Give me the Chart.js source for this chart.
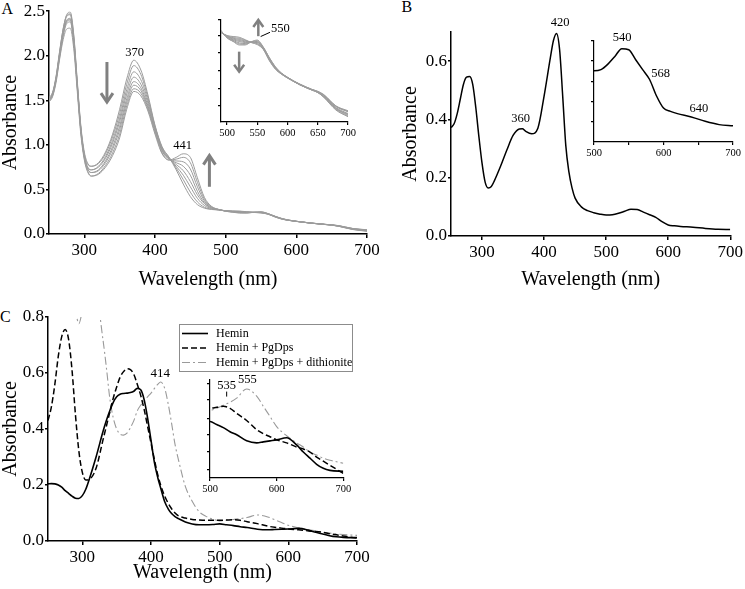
<!DOCTYPE html>
<html>
<head>
<meta charset="utf-8">
<script src="https://cdn.jsdelivr.net/npm/chart.js@4.4.1/dist/chart.umd.min.js"></script>
<style>
  body { margin: 0; background: #fff; width: 745px; height: 589px; position: relative; overflow: hidden; font-family: "Liberation Serif", serif; }
  canvas { position: absolute; }
  .tag { position: absolute; font-size: 16px; line-height: 1; }
</style>
</head>
<body>
<div class="tag" style="left:1.5px;top:0.5px">A</div>
<div class="tag" style="left:401.5px;top:-1px">B</div>
<div class="tag" style="left:0px;top:309px">C</div>

<canvas id="chartA" width="385" height="290" style="left:0;top:0"></canvas>
<canvas id="insetA" width="160" height="140" style="left:200px;top:10px"></canvas>
<canvas id="chartB" width="345" height="290" style="left:400px;top:0"></canvas>
<canvas id="insetB" width="175" height="135" style="left:570px;top:30px"></canvas>
<canvas id="chartC" width="372" height="293" style="left:0;top:296px"></canvas>
<canvas id="insetC" width="167" height="130" style="left:188px;top:370px"></canvas>

<script>
// ---- panel A: spectra recorded over time (gray family) ----
var wlA = [250,255,260,265,270,275,280,285,290,295,300,305,310,320,330,340,350,360,370,380,390,400,410,420,430,440,450,460,470,480,490,500,510,520,530,540,550,560,570,580,590,600,620,640,650,660,680,700];
var absA1 = [1.50,1.56,1.74,2.02,2.28,2.44,2.46,2.20,1.68,1.18,0.90,0.78,0.76, 0.80,0.92,1.12,1.40,1.74,1.95,1.84,1.56,1.22,0.98,0.86,0.72,0.56,0.42,0.33,0.29,0.275, 0.270,0.262,0.259,0.257,0.250,0.242,0.236,0.222,0.190,0.166,0.152,0.141, 0.123,0.108,0.102,0.092,0.060,0.045];
var absA2 = [1.52,1.58,1.76,2.04,2.30,2.46,2.49,2.24,1.72,1.22,0.92,0.79,0.76, 0.79,0.90,1.09,1.35,1.68,1.89,1.79,1.53,1.21,0.97,0.86,0.74,0.61,0.47,0.36,0.30,0.28, 0.270,0.261,0.256,0.254,0.248,0.242,0.238,0.223,0.192,0.167,0.152,0.141, 0.122,0.107,0.100,0.088,0.054,0.036];
var absA3 = [1.49,1.55,1.72,1.98,2.22,2.36,2.38,2.14,1.64,1.15,0.86,0.74,0.72, 0.76,0.87,1.05,1.30,1.62,1.82,1.73,1.50,1.20,0.96,0.85,0.76,0.66,0.53,0.40,0.32,0.285, 0.272,0.260,0.254,0.251,0.246,0.243,0.240,0.224,0.194,0.168,0.153,0.142, 0.124,0.109,0.103,0.094,0.062,0.048];
var absA4 = [1.51,1.57,1.75,2.02,2.26,2.40,2.42,2.18,1.68,1.19,0.88,0.75,0.72, 0.75,0.85,1.02,1.26,1.57,1.76,1.68,1.47,1.19,0.95,0.85,0.78,0.71,0.59,0.44,0.34,0.29, 0.272,0.259,0.252,0.248,0.244,0.243,0.242,0.225,0.195,0.169,0.153,0.142, 0.123,0.108,0.101,0.090,0.057,0.040];
var absA5 = [1.50,1.56,1.73,2.00,2.24,2.38,2.40,2.16,1.66,1.17,0.86,0.72,0.69, 0.72,0.82,0.98,1.21,1.52,1.71,1.64,1.44,1.17,0.94,0.84,0.80,0.76,0.66,0.48,0.35,0.295, 0.274,0.258,0.250,0.245,0.242,0.243,0.243,0.226,0.196,0.170,0.154,0.142, 0.122,0.107,0.100,0.087,0.052,0.033];
var absA6 = [1.53,1.59,1.77,2.05,2.30,2.45,2.47,2.22,1.70,1.20,0.88,0.73,0.69, 0.71,0.80,0.95,1.17,1.48,1.67,1.61,1.42,1.16,0.93,0.84,0.82,0.81,0.73,0.53,0.37,0.30, 0.274,0.257,0.248,0.241,0.239,0.243,0.245,0.227,0.197,0.171,0.154,0.143, 0.124,0.109,0.103,0.093,0.061,0.046];
var absA7 = [1.48,1.54,1.70,1.96,2.18,2.30,2.31,2.08,1.60,1.12,0.83,0.69,0.65, 0.68,0.77,0.91,1.12,1.44,1.63,1.58,1.40,1.14,0.91,0.83,0.84,0.86,0.80,0.58,0.39,0.305, 0.276,0.256,0.246,0.238,0.237,0.244,0.247,0.228,0.198,0.172,0.155,0.143, 0.123,0.108,0.101,0.089,0.055,0.038];
var absA8 = [1.51,1.57,1.74,2.01,2.25,2.39,2.41,2.17,1.66,1.17,0.85,0.70,0.65, 0.67,0.75,0.88,1.08,1.40,1.60,1.55,1.38,1.12,0.90,0.83,0.86,0.90,0.86,0.63,0.41,0.31, 0.276,0.255,0.245,0.235,0.235,0.244,0.249,0.229,0.199,0.173,0.155,0.143, 0.122,0.107,0.100,0.086,0.050,0.031];

// ---- panel B: single spectrum ----
var wlB = [250,255,260,265,270,275,280,285,290,295,300,305,310,315,320,330,340,350,360,365,370,380,390,400,410,415,420,425,430,435,440,445,450,460,470,480,490,500,510,520,530,540,550,560,570,580,590,600,610,620,640,660,680,700];
var absB = [0.372,0.385,0.42,0.47,0.52,0.545,0.547,0.52,0.44,0.34,0.25,0.185,0.165, 0.17,0.19, 0.24,0.295,0.345,0.367, 0.368,0.36, 0.351,0.37,0.48,0.61, 0.67,0.695,0.64,0.48,0.31,0.22,0.165,0.13, 0.10,0.087,0.08,0.075,0.072,0.073,0.078,0.085,0.092,0.091,0.082,0.073,0.064,0.049,0.038, 0.035,0.033, 0.030,0.026,0.023,0.022];

// ---- panel C: hemin, hemin + PgDps, hemin + PgDps + dithionite ----
var wlC = [250,255,260,265,270,275,280,285,290,295,300,305,310,320,330,335,340,345,350,355,360,365,370,375,380,385,390,395,400,405,410,414,420,425,430,435,440,450,460,470,480,490,500,510,520,530,540,555,570,580,590,600,615,630,640,650,660,670,680,700];
var absHemin = [0.204,0.205,0.204,0.200,0.192,0.180,0.170,0.160,0.153,0.152,0.162,0.185,0.220, 0.300,0.390, 0.430,0.465,0.495,0.515,0.524,0.527,0.528,0.530,0.535,0.545,0.540,0.505,0.44,0.36,0.28,0.225,0.19, 0.14,0.115,0.098,0.087,0.080, 0.068,0.061,0.058,0.058,0.059,0.061,0.058,0.055,0.051,0.048, 0.042,0.040,0.041,0.042,0.043, 0.045,0.038,0.031,0.025,0.019,0.015,0.013,0.012];
var absPgDps = [0.43,0.48,0.56,0.66,0.73,0.755,0.72,0.61,0.45,0.32,0.245,0.218,0.22, 0.26,0.36, 0.41,0.46,0.51,0.55,0.585,0.605,0.615,0.612,0.595,0.56,0.52,0.47,0.41,0.35,0.29,0.235,0.20, 0.16,0.135,0.115,0.10,0.09, 0.082,0.077,0.075,0.074,0.074,0.074,0.075,0.076,0.074,0.069, 0.062,0.053,0.049,0.046,0.043, 0.040,0.036,0.034,0.031,0.026,0.022,0.018,0.010];
var absDithionite = [1.10,1.08,1.05,1.02,0.98,0.94,0.90,0.86,0.82,0.776,0.82,0.85,0.87, 0.87,0.72, 0.62,0.51,0.44,0.40,0.382,0.378,0.385,0.405,0.43,0.465,0.485,0.50,0.515,0.528,0.545,0.56,0.568, 0.545,0.49,0.42,0.345,0.29, 0.195,0.142,0.105,0.088,0.078,0.072,0.074,0.077,0.080,0.084, 0.093,0.086,0.076,0.066,0.056, 0.047,0.040,0.036,0.031,0.028,0.025,0.023,0.020];

// tick values
var xTicksMain = [300, 400, 500, 600, 700];
var yTicksA = [0, 0.5, 1.0, 1.5, 2.0, 2.5];
var yTicksB = [0, 0.2, 0.4, 0.6];
var yTicksC = [0, 0.2, 0.4, 0.6, 0.8];
var xTicksInsetA = [500, 550, 600, 650, 700];
var xTicksInsetB = [500, 550, 600, 650, 700];
var xTicksInsetC = [500, 600, 700];
var yTicksInsetA = [0.062, 0.112, 0.162, 0.213, 0.263, 0.306];
var yTicksInsetB = [0.026, 0.044, 0.062, 0.081, 0.099];
var yTicksInsetC = [0.0136, 0.031, 0.048, 0.0643, 0.0822, 0.0986];

var SERIF = 'Liberation Serif';
Chart.defaults.font.family = SERIF;
Chart.defaults.color = '#000';

function pts(xs, ys) {
  return xs.map(function (x, i) { return {x: x, y: ys[i]}; });
}

function axis(o) {
  return {
    type: 'linear',
    min: o.min,
    max: o.max,
    border: {display: true, color: '#000', width: o.bw || 1.5},
    grid: {display: true, drawOnChartArea: false, drawTicks: true, tickLength: o.tl == null ? 4 : o.tl, color: '#000', lineWidth: o.bw || 1.5},
    ticks: {
      display: o.labels !== false,
      font: {family: SERIF, size: o.fs || 17},
      padding: o.pad == null ? 1 : o.pad,
      color: '#000',
      maxRotation: 0,
      autoSkip: false,
      callback: o.fmt || function (v) { return String(v); }
    },
    title: o.title ? {display: true, text: o.title, color: '#000', font: {family: SERIF, size: 20, lineHeight: 1.05}, padding: {top: 0, bottom: o.tpad || 0}} : {display: false},
    afterBuildTicks: function (s) { s.ticks = o.ticks.map(function (v) { return {value: v}; }); },
    afterFit: function (s) {
      if (o.w != null) s.width = o.w;
      if (o.h != null) s.height = o.h;
    }
  };
}

var notesPlugin = {
  id: 'notes',
  afterDraw: function (chart, args, opts) {
    var ctx = chart.ctx, xs = chart.scales.x, ys = chart.scales.y;
    function px(v) { return xs.getPixelForValue(v); }
    function py(v) { return ys.getPixelForValue(v); }
    ctx.save();
    ctx.font = (opts.size || 12) + 'px "Liberation Serif"';
    ctx.fillStyle = '#000';
    ctx.textAlign = 'center';
    ctx.textBaseline = 'middle';
    (opts.labels || []).forEach(function (l) { ctx.fillText(l.text, px(l.x), py(l.y)); });
    ctx.strokeStyle = '#000';
    ctx.lineWidth = 1;
    (opts.leaders || []).forEach(function (l) {
      ctx.beginPath(); ctx.moveTo(px(l.x0), py(l.y0)); ctx.lineTo(px(l.x1), py(l.y1)); ctx.stroke();
    });
    (opts.arrows || []).forEach(function (a) {
      var x = px(a.x), y0 = py(a.from), y1 = py(a.to);
      var dir = y1 > y0 ? 1 : -1;
      ctx.strokeStyle = '#808080';
      ctx.lineWidth = opts.arrowWidth || 3;
      ctx.beginPath(); ctx.moveTo(x, y0); ctx.lineTo(x, y1 - dir); ctx.stroke();
      ctx.beginPath();
      ctx.moveTo(x - opts.headW, y1 - dir * opts.headL);
      ctx.lineTo(x, y1);
      ctx.lineTo(x + opts.headW, y1 - dir * opts.headL);
      ctx.stroke();
    });
    ctx.restore();
  }
};

var boxLegend = {
  id: 'boxLegend',
  afterDraw: function (chart, args, opts) {
    if (!opts.show) return;
    var ctx = chart.ctx, ca = chart.chartArea;
    var left = Math.round(ca.right - opts.right - opts.width), top = Math.round(ca.top + opts.top);
    ctx.save();
    ctx.strokeStyle = '#8c8c8c';
    ctx.lineWidth = 1;
    ctx.strokeRect(left + 0.5, top + 0.5, opts.width, opts.height);
    ctx.font = opts.size + 'px "Liberation Serif"';
    ctx.textBaseline = 'middle';
    ctx.textAlign = 'left';
    ctx.fillStyle = '#000';
    chart.data.datasets.forEach(function (ds, i) {
      var y = top + opts.first + i * opts.row;
      ctx.strokeStyle = ds.borderColor;
      ctx.lineWidth = ds.borderWidth;
      ctx.setLineDash(ds.borderDash || []);
      ctx.beginPath(); ctx.moveTo(left + 3, y); ctx.lineTo(left + 29, y); ctx.stroke();
      ctx.setLineDash([]);
      ctx.fillText(ds.label, left + 37, y);
    });
    ctx.restore();
  }
};

function lineChart(id, datasets, scales, padding, plugOpts) {
  return new Chart(document.getElementById(id), {
    type: 'line',
    data: {datasets: datasets},
    options: {
      responsive: false,
      animation: false,
      devicePixelRatio: 1,
      events: [],
      font: {family: SERIF},
      layout: {padding: padding},
      elements: {point: {radius: 0}, line: {cubicInterpolationMode: 'monotone'}},
      scales: scales,
      plugins: Object.assign({legend: {display: false}, tooltip: {enabled: false}}, plugOpts)
    },
    plugins: [notesPlugin, boxLegend]
  });
}

// panel A datasets
function grayFamily() {
  return [absA1, absA2, absA3, absA4, absA5, absA6, absA7, absA8].map(function (ys, i) {
    return {label: 'scan ' + (i + 1), data: pts(wlA, ys), borderColor: '#9c9c9c', borderWidth: 1, fill: false};
  });
}
function blackB() {
  return [{label: 'spectrum', data: pts(wlB, absB), borderColor: '#000', borderWidth: 1.5, fill: false}];
}
function hemeC() {
  return [
    {label: 'Hemin', data: pts(wlC, absHemin), borderColor: '#000', borderWidth: 1.6, fill: false},
    {label: 'Hemin + PgDps', data: pts(wlC, absPgDps), borderColor: '#000', borderWidth: 1.5, borderDash: [6, 3], fill: false},
    {label: 'Hemin + PgDps + dithionite', data: pts(wlC, absDithionite), borderColor: '#9a9a9a', borderWidth: 1.1, borderDash: [8, 3, 2, 3], fill: false}
  ];
}

var fmt1 = function (v) { return v.toFixed(1); };

// ---- A ----
lineChart('chartA', grayFamily(), {
  x: axis({min: 250, max: 700, ticks: xTicksMain, h: 56, pad: 2, title: 'Wavelength (nm)'}),
  y: axis({min: 0, max: 2.5, ticks: yTicksA, w: 49, tl: 3, pad: 1, fmt: fmt1, title: 'Absorbance'})
}, {top: 11, right: 18, left: 0, bottom: 0}, {
  notes: {size: 12.5, headW: 6, headL: 9, arrowWidth: 3,
    labels: [{text: '370', x: 371, y: 2.03}, {text: '441', x: 439, y: 0.99}],
    arrows: [{x: 332, from: 1.93, to: 1.48}, {x: 477, from: 0.53, to: 0.88}]},
  boxLegend: {show: false}
});

lineChart('insetA', grayFamily(), {
  x: axis({min: 490, max: 700, ticks: xTicksInsetA, h: 28, fs: 10.5, bw: 1.2, tl: 3, pad: 2}),
  y: axis({min: 0.016, max: 0.306, ticks: yTicksInsetA, w: 21, bw: 1.2, tl: 3, labels: false})
}, {top: 10, right: 12, left: 0, bottom: 0}, {
  notes: {size: 12.5, headW: 5, headL: 7, arrowWidth: 2.5,
    labels: [{text: '550', x: 588, y: 0.282}],
    leaders: [{x0: 555.6, y0: 0.259, x1: 571, y1: 0.271}],
    arrows: [{x: 551.7, from: 0.260, to: 0.306}, {x: 520, from: 0.216, to: 0.159}]},
  boxLegend: {show: false}
});

// ---- B ----
lineChart('chartB', blackB(), {
  x: axis({min: 250, max: 700, ticks: xTicksMain, h: 54, pad: 2, title: 'Wavelength (nm)'}),
  y: axis({min: 0, max: 0.7, ticks: yTicksB, w: 51, tl: 3, pad: 1, fmt: fmt1, title: 'Absorbance'})
}, {top: 32, right: 11, left: 0, bottom: 0}, {
  notes: {size: 12.5, labels: [{text: '420', x: 426, y: 0.731}, {text: '360', x: 362, y: 0.402}]},
  boxLegend: {show: false}
});

lineChart('insetB', blackB(), {
  x: axis({min: 500, max: 700, ticks: xTicksInsetB, h: 23, fs: 10.5, bw: 1.2, tl: 3, pad: 2,
    fmt: function (v) { return v % 100 === 0 ? String(v) : ''; }}),
  y: axis({min: 0.0072, max: 0.099, ticks: yTicksInsetB, w: 24, bw: 1.2, tl: 3, labels: false})
}, {top: 11, right: 12, left: 0, bottom: 0}, {
  notes: {size: 12.5, labels: [{text: '540', x: 540.6, y: 0.102}, {text: '568', x: 595.7, y: 0.0697}, {text: '640', x: 651, y: 0.0373}]},
  boxLegend: {show: false}
});

// ---- C ----
lineChart('chartC', hemeC(), {
  x: axis({min: 250, max: 700, ticks: xTicksMain, h: 48, pad: 2, title: 'Wavelength (nm)', tpad: 6}),
  y: axis({min: 0, max: 0.8, ticks: yTicksC, w: 48, tl: 3, pad: 1, fmt: fmt1, title: 'Absorbance'})
}, {top: 21, right: 15, left: 0, bottom: 0}, {
  notes: {size: 13, labels: [{text: '414', x: 413.5, y: 0.599}]},
  boxLegend: {show: true, right: 5, top: 7, width: 173, height: 47, first: 9.5, row: 14.5, size: 12}
});

lineChart('insetC', hemeC(), {
  x: axis({min: 500, max: 700, ticks: xTicksInsetC, h: 22, fs: 10.5, bw: 1.2, tl: 3, pad: 2}),
  y: axis({min: 0.0055, max: 0.1018, ticks: yTicksInsetC, w: 22, bw: 1.2, tl: 3, labels: false})
}, {top: 10, right: 11.7, left: 0, bottom: 0}, {
  notes: {size: 12.5, labels: [{text: '535', x: 525, y: 0.0962}, {text: '555', x: 556, y: 0.1023}],
    leaders: [{x0: 525, y0: 0.0904, x1: 525, y1: 0.0855}]},
  boxLegend: {show: false}
});
</script>
</body>
</html>
